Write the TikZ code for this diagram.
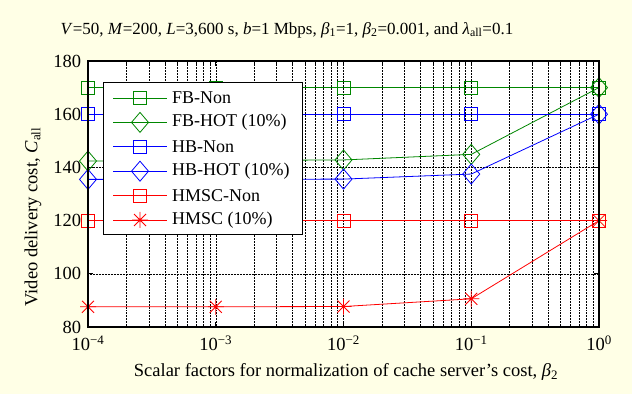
\documentclass[tikz,border=0pt]{standalone}
\usepackage{fontspec}
\setmainfont{Liberation Serif}
\usetikzlibrary{positioning}
\definecolor{bgyellow}{RGB}{255,255,230}
\definecolor{fbgreen}{RGB}{0,135,0}
\definecolor{hbblue}{RGB}{0,0,255}
\definecolor{hmred}{RGB}{255,0,0}

\begin{document}
\begin{tikzpicture}[x=1pt,y=1pt,font=\fontsize{17}{20}\selectfont,
 curve/.style={line width=0.8pt},
 gridline/.style={densely dotted,line width=0.5pt,black},
 lbl/.style={inner sep=1pt,font=\fontsize{18.5}{21}\selectfont},
 legtext/.style={inner sep=1pt,font=\fontsize{18}{21}\selectfont},
 axlabel/.style={font=\fontsize{18.5}{21}\selectfont},
 sqmark/.pic={\draw[line width=0.8pt] (-6.5pt,-6.5pt) rectangle (6.5pt,6.5pt);},
 dmmark/.pic={\draw[line width=0.8pt] (-8.5pt,0pt)--(0pt,10pt)--(8.5pt,0pt)--(0pt,-10pt)--cycle;},
 astmark/.pic={\draw[line width=0.8pt] (-8pt,0pt)--(8pt,0pt) (0pt,-8pt)--(0pt,8pt)
   (-6pt,-6pt)--(6pt,6pt) (-6pt,6pt)--(6pt,-6pt);}]
% page and plot box
\fill[bgyellow] (0,0) rectangle (632,394);
\useasboundingbox (0,0) rectangle (632,394);
\begin{scope}[shift={(88pt,-145.8pt)},x=127.75pt,y=2.66pt]
\fill[white] (0,80) rectangle (4,180);
% grid
\foreach \i in {0,...,3}
  \foreach \k in {2,...,9}
    \draw[gridline] ({\i+log10(\k)},80) -- ({\i+log10(\k)},180);
\foreach \i in {1,2,3}
  \draw[gridline] (\i,80) -- (\i,180);
\foreach \v in {100,120,140,160}
  \draw[gridline] (0,\v) -- (4,\v);
% ticks
\foreach \i in {0,...,3}
  \foreach \k in {2,...,9} {
    \draw[line width=0.5pt] ({\i+log10(\k)},80) -- ++(0,1.2);
    \draw[line width=0.5pt] ({\i+log10(\k)},180) -- ++(0,-1.2);
  }
\foreach \i in {1,2,3} {
  \draw[line width=0.6pt] (\i,80) -- ++(0,2);
  \draw[line width=0.6pt] (\i,180) -- ++(0,-2);
}
\foreach \v in {100,120,140,160} {
  \draw[line width=0.6pt] (0,\v) -- ++(0.04,0);
  \draw[line width=0.6pt] (4,\v) -- ++(-0.04,0);
}
% tick labels
\foreach \e [count=\i from 0] in {4,3,2,1}
  \node[lbl,below] (xt\e) at (\i,77.2) {10\textsuperscript{−\e}};
\node[lbl,below] (xt0) at (4,77.2) {10\textsuperscript{0}};
\foreach \v in {80,100,...,180}
  \node[lbl,left] (yt\v) at (-0.045,\v) {\v};
% series
\begin{scope}[fbgreen]
\draw[curve] (0,170) -- (4,170);
\draw[curve] (0,142.4) -- (1,142.6) -- (2,142.8) -- (3,144.9) -- (4,170);
\foreach \i in {0,...,4} \pic at (\i,170) {sqmark};
\foreach \i/\v in {0/142.4,1/142.6,2/142.8,3/144.9,4/170} \pic at (\i,\v) {dmmark};
\end{scope}
\begin{scope}[hbblue]
\draw[curve] (0,160) -- (4,160);
\draw[curve] (0,135.5) -- (1,135.5) -- (2,135.6) -- (3,137.5) -- (4,160);
\foreach \i in {0,...,4} \pic at (\i,160) {sqmark};
\foreach \i/\v in {0/135.5,1/135.5,2/135.6,3/137.5,4/160} \pic at (\i,\v) {dmmark};
\end{scope}
\begin{scope}[hmred]
\draw[curve] (0,120) -- (4,120);
\draw[curve] (0,87.6) -- (1,87.6) -- (2,87.7) -- (3,90.6) -- (4,120);
\foreach \i in {0,...,4} \pic at (\i,120) {sqmark};
\foreach \i/\v in {0/87.6,1/87.6,2/87.7,3/90.6,4/120} \pic at (\i,\v) {astmark};
\end{scope}
% axis box
\draw[line width=1.1pt] (0,80) rectangle (4,180);
\end{scope}
% legend
\node[draw=black,fill=white,line width=0.9pt,minimum width=199pt,minimum height=152pt,
  inner sep=0pt,anchor=north west] (legend) at (102.7,311.7) {};
\foreach \name/\col/\mk [count=\n from 0] in {FB-Non/fbgreen/sqmark,FB-HOT (10\%)/fbgreen/dmmark,
    HB-Non/hbblue/sqmark,HB-HOT (10\%)/hbblue/dmmark,HMSC-Non/hmred/sqmark,HMSC (10\%)/hmred/astmark} {
  \draw[curve,\col] (113,296-24.4*\n) -- (167,296-24.4*\n);
  \pic[\col] at (140,296-24.4*\n) {\mk};
  \node[legtext,anchor=west] (leg\n) at (171,296-24.4*\n) {\name};
}
% labels
\node (title) at (287,364) {\textit{V}=50, \textit{M}=200, \textit{L}=3,600 s, \textit{b}=1 Mbps,
  \textit{β}\textsubscript{1}=1, \textit{β}\textsubscript{2}=0.001, and \textit{λ}\textsubscript{all}=0.1};
\node[axlabel] (xlabel) at (346,22) {Scalar factors for normalization of cache server’s cost, \textit{β}\textsubscript{2}};
\node[axlabel,rotate=90] (ylabel) at (33,177) {Video delivery cost, \textit{C}\textsubscript{all}};
\end{tikzpicture}
\end{document}
